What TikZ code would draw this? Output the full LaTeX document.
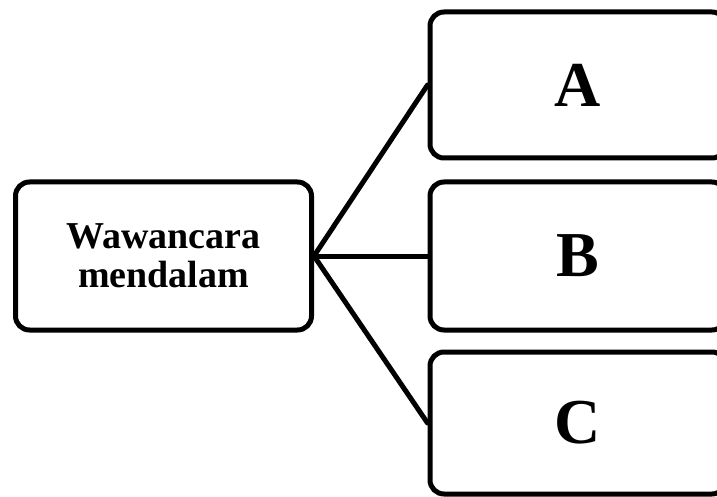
\documentclass[tikz,border=0pt]{standalone}
\usepackage{fontspec}
\setmainfont{Liberation Serif}
\usepackage{tikz}
\usetikzlibrary{arrows.meta}
\tikzset{>=stealth}
\tikzset{%
    kotak/.style={%
        draw, line width=5pt, rounded corners=14pt,
        minimum width=296pt, inner sep=0pt, align=center
    },
    huruf/.style={%
        font=\fontsize{64}{64}\selectfont\bfseries
    },
    garis/.style={line width=5pt, line cap=round}
}

\begin{document}
\begin{tikzpicture}[x=1pt,y=-1pt]
\useasboundingbox (0,0) rectangle (717,497);
%\draw[thick] (0,0) rectangle (717,497);
\node[kotak,minimum height=148pt,font=\fontsize{38}{39}\selectfont\bfseries] (wawancara) at (163.5,256) {Wawancara\\mendalam};
\node[kotak,huruf,minimum height=146pt] (A) at (578,85)  {A};
\node[kotak,huruf,minimum height=148pt] (B) at (578,256) {B};
\node[kotak,huruf,minimum height=142pt] (C) at (578,423) {C};
\draw[garis] (wawancara.east) -- (A.west);
\draw[garis] (wawancara.east) -- (B.west);
\draw[garis] (wawancara.east) -- (C.west);
\end{tikzpicture}
\end{document}
